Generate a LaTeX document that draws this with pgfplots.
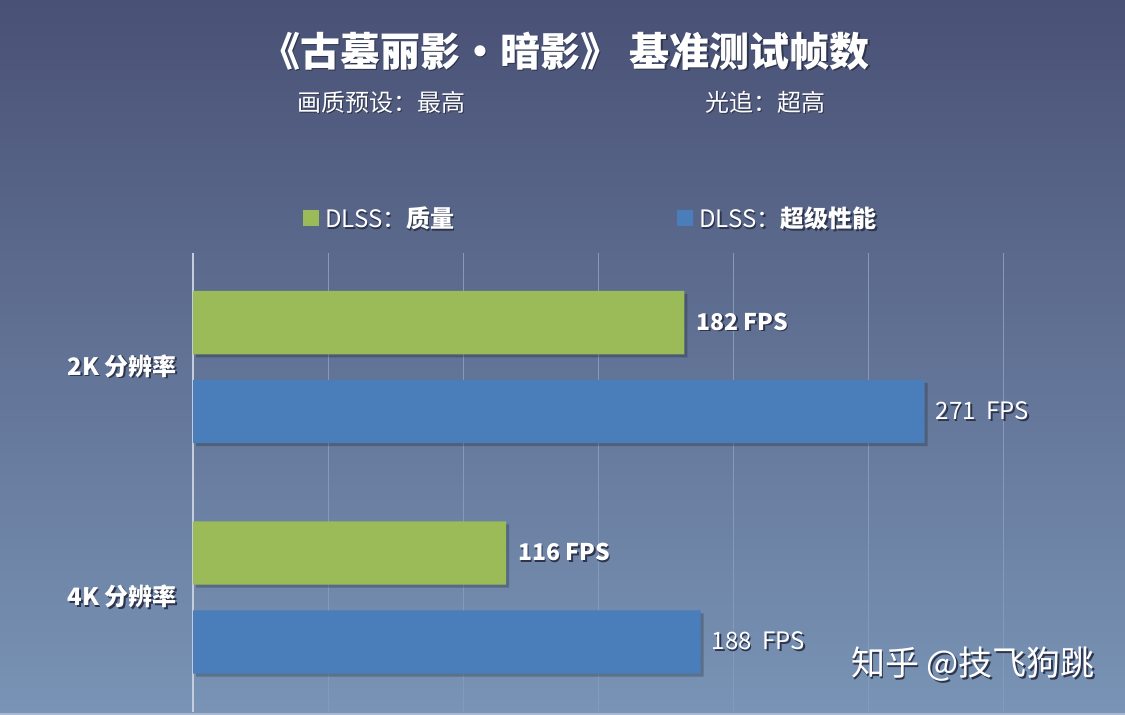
\documentclass[border=0pt]{standalone}
\usepackage{fontspec}
\setmainfont{Noto Sans CJK SC}
\usepackage{pgfplots}
\pgfplotsset{compat=1.18}
\definecolor{bgtop}{RGB}{73,81,117}
\definecolor{bgbot}{RGB}{121,148,182}
\definecolor{dgreen}{RGB}{155,187,89}
\definecolor{dblue}{RGB}{74,126,187}
\definecolor{gridc}{RGB}{135,153,186}
\definecolor{axisc}{RGB}{195,205,222}
\definecolor{shc}{RGB}{45,52,75}
\newcommand\sh[1]{\leavevmode\rlap{\kern1.5pt\raisebox{-1.5pt}{\color{shc}#1}}#1}
\begin{document}
\begin{tikzpicture}
\shade[top color=bgtop,bottom color=bgbot] (0pt,0pt) rectangle (1125pt,715pt);
\fill[color={rgb,255:red,170;green,184;blue,206}] (0pt,0pt) rectangle (1125pt,2pt);
\useasboundingbox (0pt,0pt) rectangle (1125pt,715pt);
\node[text=white,font=\fontsize{40}{42}\selectfont\bfseries] at (565pt,663pt) {\sh{《古墓丽影•暗影》\ 基准测试帧数}};
\node[text=white,font=\fontsize{24}{26}\selectfont] at (381pt,612pt) {\sh{画质预设：最高}};
\node[text=white,font=\fontsize{24}{26}\selectfont] at (765pt,612pt) {\sh{光追：超高}};
\begin{axis}[
  at={(193pt,3pt)}, anchor=south west, scale only axis,
  width=810pt, height=459pt,
  xmin=0, xmax=300, ymin=-0.497, ymax=1.495,
  xbar, bar width=0.275,
  axis line style={draw=none},
  xtick={50,100,...,300}, xticklabels={},
  extra x ticks={0}, extra x tick labels={},
  extra x tick style={grid style={color=axisc,line width=1.2pt}},
  xmajorgrids, grid style={color=gridc,line width=1pt},
  major tick length=0pt,
  ytick={0,1},
  yticklabels={\sh{4K 分辨率},\sh{2K 分辨率}},
  yticklabel style={text=white,font=\fontsize{24}{26}\selectfont\bfseries,inner sep=0pt,xshift=-16pt},
  clip=false,
  point meta=x,
  legend style={at={(0.1358,1)}, anchor=west, yshift=35pt, draw=none, fill=none,
    text=white, font=\fontsize{24}{26}\selectfont, inner sep=0pt,
    legend columns=2, /tikz/every even column/.append style={column sep=221pt}},
  legend image code/.code={\path (0pt,0pt) -- (20pt,0pt);\fill[#1,draw=none] (0pt,-8pt) rectangle (16pt,8pt);},
]
\addplot[xshift=3pt,yshift=-3pt,fill=black,fill opacity=0.22,draw=none,bar shift=0.193,forget plot] coordinates {(116,0) (182,1)};
\addplot[xshift=3pt,yshift=-3pt,fill=black,fill opacity=0.22,draw=none,bar shift=-0.193,forget plot] coordinates {(188,0) (271,1)};
\addplot[fill=dgreen,draw=none,bar shift=0.193,
  nodes near coords={\sh{\pgfmathprintnumber[assume math mode=true]{\pgfplotspointmeta} FPS}},
  every node near coord/.append style={text=white,font=\fontsize{23}{25}\selectfont\bfseries,inner sep=0pt,anchor=west,xshift=12pt}]
  coordinates {(116,0) (182,1)};
\addlegendentry{\sh{DLSS：\textbf{质量}}}
\addplot[fill=dblue,draw=none,bar shift=-0.193,
  nodes near coords={\sh{\pgfmathprintnumber[assume math mode=true]{\pgfplotspointmeta}\ \ FPS}},
  every node near coord/.append style={text=white,font=\fontsize{24}{26}\selectfont,inner sep=0pt,anchor=west,xshift=11pt}]
  coordinates {(188,0) (271,1)};
\addlegendentry{\sh{DLSS：\textbf{超级性能}}}
\end{axis}
\node[text=white,font=\fontsize{34}{36}\selectfont] at (973pt,50pt) {\sh{知乎 @技飞狗跳}};
\end{tikzpicture}
\end{document}
